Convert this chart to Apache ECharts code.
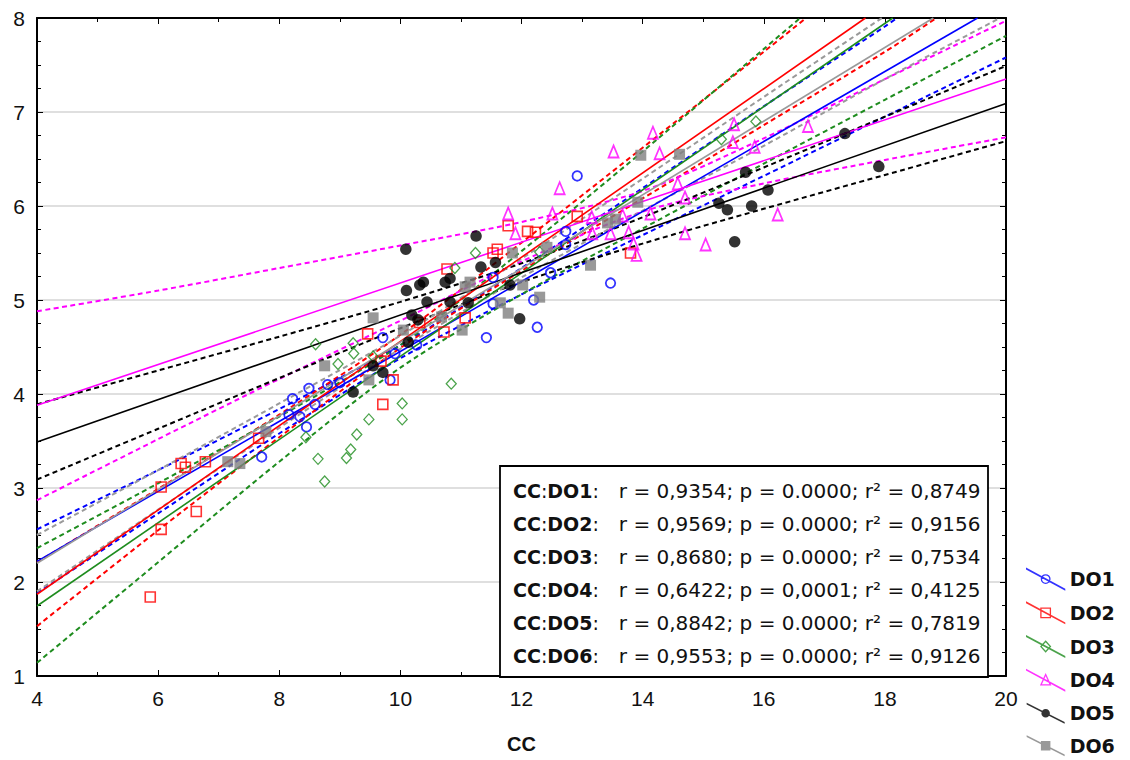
<!DOCTYPE html>
<html><head><meta charset="utf-8">
<script src="https://cdn.jsdelivr.net/npm/echarts@6/dist/echarts.min.js"></script>
<style>html,body{margin:0;padding:0;background:#fff}#c{width:1130px;height:760px}</style>
</head><body><div id="c"></div>
<script>
// ---- data ----
const seriesNames = ['DO1', 'DO2', 'DO3', 'DO4', 'DO5', 'DO6'];
const xTicks = [4, 6, 8, 10, 12, 14, 16, 18, 20];
const yTicks = [1, 2, 3, 4, 5, 6, 7, 8];

const do1Points = [[7.71,3.33],[8.16,3.78],[8.22,3.95],[8.34,3.76],[8.45,3.65],[8.49,4.06],[8.59,3.89],[8.8,4.1],[9.0,4.12],[9.71,4.6],[9.83,4.15],[9.91,4.43],[10.27,4.52],[11.42,4.6],[11.53,4.96],[11.53,5.24],[12.2,5.0],[12.26,4.71],[12.48,5.29],[12.73,5.59],[12.73,5.73],[12.92,6.32],[13.47,5.18]];
const do2Points = [[5.87,1.84],[6.05,2.56],[6.05,3.01],[6.38,3.26],[6.45,3.22],[6.63,2.75],[6.78,3.28],[7.66,3.53],[9.46,4.64],[9.68,4.35],[9.71,3.89],[9.88,4.15],[10.32,4.76],[10.72,4.66],[11.07,4.81],[10.77,5.33],[11.53,5.5],[11.6,5.54],[11.78,5.79],[12.1,5.73],[12.23,5.72],[12.92,5.89],[13.8,5.5]];
const do3Points = [[8.44,3.54],[8.6,4.53],[8.64,3.31],[8.75,3.07],[8.97,4.32],[9.11,3.32],[9.18,3.41],[9.22,4.54],[9.23,4.43],[9.28,3.57],[9.48,3.73],[9.55,4.4],[10.03,3.9],[10.03,3.73],[10.84,4.11],[10.9,5.34],[11.24,5.5],[12.3,5.51],[15.3,6.71],[15.87,6.9]];
const do4Points = [[11.78,5.92],[11.9,5.71],[12.51,5.92],[12.63,6.19],[13.16,5.88],[13.17,5.71],[13.47,5.71],[13.52,6.58],[13.67,5.9],[13.77,5.72],[13.85,5.6],[13.9,5.48],[14.13,5.92],[14.17,6.78],[14.28,6.56],[14.58,6.24],[14.7,6.09],[14.7,5.71],[15.04,5.59],[15.49,6.68],[15.51,6.87],[15.85,6.63],[16.23,5.91],[16.73,6.85]];
const do5Points = [[9.22,4.02],[9.55,4.3],[9.71,4.23],[10.09,5.54],[10.1,5.1],[10.13,4.55],[10.19,4.84],[10.29,4.79],[10.32,5.16],[10.38,5.19],[10.44,4.98],[10.74,5.19],[10.82,5.23],[10.82,4.98],[11.12,4.97],[11.25,5.68],[11.33,5.35],[11.57,5.4],[11.81,5.16],[11.97,4.8],[15.26,6.03],[15.4,5.96],[15.52,5.62],[15.7,6.36],[15.8,6.0],[16.07,6.17],[17.34,6.77],[17.9,6.42]];
const do6Points = [[7.15,3.28],[7.35,3.26],[7.78,3.6],[8.75,4.3],[9.48,4.15],[9.55,4.81],[10.05,4.68],[10.68,4.82],[11.02,4.68],[11.07,5.14],[11.15,5.19],[11.65,4.97],[11.78,4.86],[11.85,5.5],[12.02,5.16],[12.3,5.03],[12.42,5.56],[13.14,5.37],[13.42,5.82],[13.55,5.86],[13.92,6.04],[13.97,6.54],[14.61,6.55]];

// regression lines (end points)
const do1Fit = [[4,2.22],[19.53,8]];
const do2Fit = [[4,1.87],[17.68,8]];
const do3Fit = [[4,1.745],[18.13,8]];
const do4Fit = [[4,3.88],[20,7.35]];
const do5Fit = [[4,3.49],[20,7.09]];
const do6Fit = [[4,2.2],[18.8,8]];

// 95% confidence bands
const do1Upper = [[4,2.56],[6,3.19],[8,3.84],[10,4.52],[12,5.34],[14,6.19],[16,7.06],[18,7.91],[18.2,8]];
const do1Lower = [[4,1.88],[6,2.73],[8,3.58],[10,4.38],[12,5.06],[14,5.69],[16,6.32],[18,6.95],[20,7.58]];
const do2Upper = [[4,2.21],[6,2.99],[8,3.78],[10,4.63],[12,5.61],[14,6.62],[16,7.64],[16.7,8]];
const do2Lower = [[4,1.53],[6,2.55],[8,3.54],[10,4.49],[12,5.31],[14,6.08],[16,6.86],[18,7.64],[18.85,8]];
const do3Upper = [[4,2.36],[6,3.05],[8,3.76],[10,4.52],[12,5.52],[14,6.58],[16,7.67],[16.6,8]];
const do3Lower = [[4,1.14],[6,2.21],[8,3.28],[10,4.28],[12,5.06],[14,5.76],[16,6.45],[18,7.13],[20,7.81]];
const do4Upper = [[4,4.88],[6,5.1],[8,5.34],[10,5.58],[12,5.83],[14,6.16],[16,6.72],[18,7.35],[20,7.97]];
const do4Lower = [[4,2.87],[6,3.52],[8,4.16],[10,4.78],[12,5.41],[14,5.94],[16,6.24],[18,6.49],[20,6.73]];
const do5Upper = [[4,3.89],[6,4.25],[8,4.61],[10,4.98],[12,5.39],[14,5.88],[16,6.41],[18,6.95],[20,7.49]];
const do5Lower = [[4,3.09],[6,3.63],[8,4.17],[10,4.7],[12,5.19],[14,5.6],[16,5.97],[18,6.33],[20,6.69]];
const do6Upper = [[4,2.5],[6,3.19],[8,3.9],[10,4.62],[12,5.44],[14,6.29],[16,7.16],[17.95,8]];
const do6Lower = [[4,1.9],[6,2.77],[8,3.64],[10,4.48],[12,5.24],[14,5.95],[16,6.64],[18,7.35],[19.9,8]];

// statistics box text
const rValues = ['0,9354', '0,9569', '0,8680', '0,6422', '0,8842', '0,9553'];
const pValues = ['0.0000', '0.0000', '0.0000', '0,0001', '0.0000', '0.0000'];
const r2Values = ['0,8749', '0,9156', '0,7534', '0,4125', '0,7819', '0,9126'];

// ---- styling ----
const colors = ['#0000ff', '#ff0000', '#1e8c1e', '#ff00ff', '#000000', '#808080'];
const lineColors = ['#0000ff', '#ff0000', '#1e8c1e', '#ff00ff', '#000000', '#9a9a9a'];
const symbols = ['circle', 'rect', 'diamond', 'triangle', 'circle', 'rect'];
const symbolSizes = [9.5, 10, [10, 11], [10, 12], 11.5, 11];
const borderWidths = [1.8, 1.6, 1.3, 1.8, 0, 0];
const filled = [false, false, false, false, true, true];

const points = [do1Points, do2Points, do3Points, do4Points, do5Points, do6Points];
const fits = [do1Fit, do2Fit, do3Fit, do4Fit, do5Fit, do6Fit];
const uppers = [do1Upper, do2Upper, do3Upper, do4Upper, do5Upper, do6Upper];
const lowers = [do1Lower, do2Lower, do3Lower, do4Lower, do5Lower, do6Lower];

const markerPaths = {
  circle: 'M24.5 11 A4.5 4.5 0 1 1 15.5 11 A4.5 4.5 0 1 1 24.5 11 Z',
  rect: 'M15 6 L25 6 L25 16 L15 16 Z',
  diamond: 'M20 5.5 L25 11 L20 16.5 L15 11 Z',
  triangle: 'M20 5 L25 16 L15 16 Z'
};
function legendIcon(i) {
  const t = filled[i] ? 1.8 : 0.5;
  return 'path://M0 0 L40 ' + (22 - t) + ' L40 22 L0 ' + t + ' Z ' + markerPaths[symbols[i]];
}

const series = [];
seriesNames.forEach((name, i) => {
  const bandStyle = { color: lineColors[i], width: 2, type: [5, 3.5] };
  [uppers[i], lowers[i]].forEach((band, k) => {
    series.push({
      name: name + (k === 0 ? ' upper' : ' lower'), type: 'line', data: band,
      smooth: 0.3, symbol: 'none', silent: true, z: 2, clip: true,
      lineStyle: bandStyle
    });
  });
  series.push({
    name: name + ' fit', type: 'line', data: fits[i], symbol: 'none', silent: true, z: 3, clip: true,
    lineStyle: { color: lineColors[i], width: 1.6 }
  });
});
seriesNames.forEach((name, i) => {
  series.push({
    name: name, type: 'scatter', data: points[i], symbol: symbols[i], symbolSize: symbolSizes[i], z: 5,
    itemStyle: filled[i]
      ? { color: colors[i], borderWidth: 0 }
      : { color: 'rgba(255,255,255,0)', borderColor: colors[i], borderWidth: borderWidths[i] }
  });
});

const statsGraphics = [{
  type: 'rect', shape: { x: 500, y: 466, width: 488, height: 211 },
  style: { fill: '#fff', stroke: '#000', lineWidth: 1.8 }, z: 100
}];
seriesNames.forEach((name, i) => {
  statsGraphics.push({
    type: 'text', x: 513, y: 491 + i * 33, z: 101,
    style: {
      text: '{b|CC}{n|:}{b|' + name + '}{n|:}{g| }{t|r = ' + rValues[i] + '; p = ' + pValues[i] + '; r\u00b2 = ' + r2Values[i] + '}',
      verticalAlign: 'middle',
      rich: {
        b: { fontFamily: 'DejaVu Sans', fontWeight: 'bold', fontSize: 19, fill: '#111' },
        n: { fontFamily: 'DejaVu Sans', fontSize: 19, fill: '#111' },
        g: { width: 20 },
        t: { fontFamily: 'DejaVu Sans', fontSize: 20, fill: '#111' }
      }
    }
  });
});

const axisLine = { show: true, onZero: false, lineStyle: { color: '#000', width: 2 } };
const tickStyle = { color: '#000', width: 1 };

const chart = echarts.init(document.getElementById('c'), null, { renderer: 'svg' });
chart.setOption({
  animation: false,
  backgroundColor: '#fff',
  grid: { left: 37, right: 124, top: 18, bottom: 84 },
  xAxis: [{
    type: 'value', min: xTicks[0], max: xTicks[xTicks.length - 1], interval: 2, position: 'bottom',
    axisLine: axisLine,
    axisTick: { show: true, inside: true, length: 6, lineStyle: tickStyle },
    minorTick: { show: true, splitNumber: 2, length: 4, lineStyle: tickStyle },
    splitLine: { show: false },
    axisLabel: { fontSize: 21, color: '#111', margin: 12, fontFamily: 'Liberation Sans' },
    name: 'CC', nameLocation: 'middle', nameGap: 58,
    nameTextStyle: { fontWeight: 'bold', fontSize: 20, color: '#111', fontFamily: 'Liberation Sans' }
  }, {
    type: 'value', min: xTicks[0], max: xTicks[xTicks.length - 1], interval: 2, position: 'top',
    axisLine: axisLine,
    axisTick: { show: true, inside: true, length: 6, lineStyle: tickStyle },
    minorTick: { show: true, splitNumber: 2, length: 4, lineStyle: tickStyle },
    splitLine: { show: false }, axisLabel: { show: false }
  }],
  yAxis: [{
    type: 'value', min: yTicks[0], max: yTicks[yTicks.length - 1], interval: 1, position: 'left',
    axisLine: axisLine,
    axisTick: { show: true, inside: true, length: 6, lineStyle: tickStyle },
    minorTick: { show: true, splitNumber: 4, length: 4, lineStyle: tickStyle },
    splitLine: { show: true, lineStyle: { color: '#d4d4d4', width: 1.5 } },
    axisLabel: { fontSize: 21, color: '#111', margin: 12, fontFamily: 'Liberation Sans' }
  }, {
    type: 'value', min: yTicks[0], max: yTicks[yTicks.length - 1], interval: 1, position: 'right',
    axisLine: axisLine,
    axisTick: { show: true, inside: true, length: 6, lineStyle: tickStyle },
    minorTick: { show: true, splitNumber: 4, length: 4, lineStyle: tickStyle },
    splitLine: { show: false }, axisLabel: { show: false }
  }],
  legend: {
    orient: 'vertical', left: 1026, top: 568, height: 220, padding: 0,
    itemWidth: 38, itemHeight: 21, itemGap: 11.5, itemTextGap: 7,
    selectedMode: false,
    textStyle: { fontFamily: 'DejaVu Sans', fontWeight: 'bold', fontSize: 19, lineHeight: 21, color: '#111' },
    data: seriesNames.map((name, i) => ({
      name: name, icon: legendIcon(i),
      itemStyle: filled[i]
        ? { color: colors[i], borderWidth: 0 }
        : { color: '#fff', borderColor: colors[i], borderWidth: 1.3 }
    }))
  },
  graphic: statsGraphics,
  series: series
});
</script></body></html>
